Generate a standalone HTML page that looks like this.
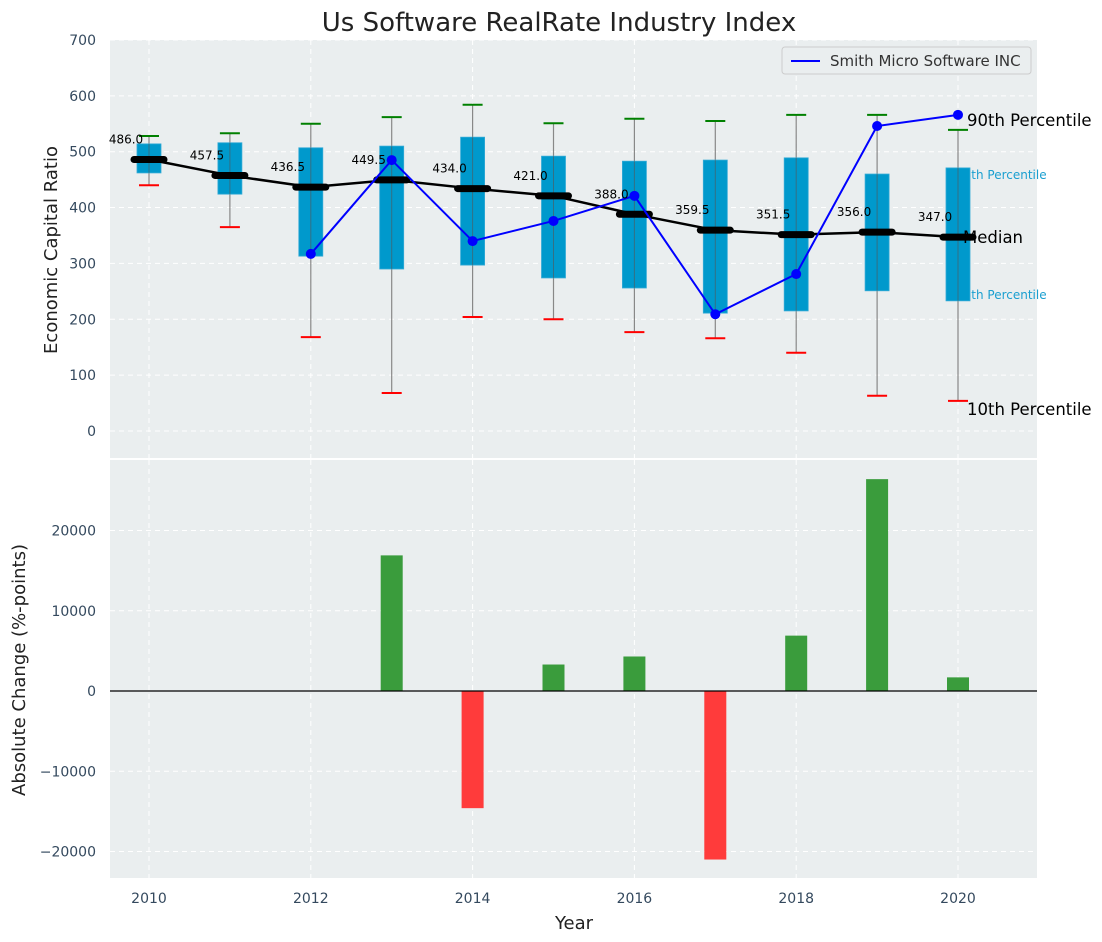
<!DOCTYPE html>
<html><head><meta charset="utf-8"><style>
body{margin:0;background:#fff;}
svg{display:block;font-family:"DejaVu Sans","Liberation Sans",sans-serif;}
</style></head><body>
<svg id="chart" width="1102" height="942" viewBox="0 0 1102 942" xmlns="http://www.w3.org/2000/svg">
<text x="559" y="31" text-anchor="middle" font-size="26" fill="#222">Us Software RealRate Industry Index</text>
<rect x="110" y="40" width="927" height="418" fill="#eaeeef"/>
<rect x="110" y="460" width="927" height="418" fill="#eaeeef"/>
<g id="grid"></g><g id="bars"></g><g id="boxes"></g><g id="annot"></g><g id="lines"></g><g id="labels"></g><g id="axes"></g>
<text x="57" y="250" transform="rotate(-90 57 250)" text-anchor="middle" font-size="18" fill="#222">Economic Capital Ratio</text>
<text x="25" y="670" transform="rotate(-90 25 670)" text-anchor="middle" font-size="18" fill="#222">Absolute Change (%-points)</text>
<text x="574" y="929" text-anchor="middle" font-size="18" fill="#222">Year</text>
<g>
<rect x="782" y="47" width="249" height="27" fill="#eaeeef" stroke="#ccc" rx="3"/>
<line x1="791" y1="61" x2="820" y2="61" stroke="#0000ff" stroke-width="2"/>
<text x="830" y="66" font-size="15" fill="#333">Smith Micro Software INC</text>
</g>
</svg>
<script>
const years=[2010,2011,2012,2013,2014,2015,2016,2017,2018,2019,2020];
const p90=[528,533,550,562,584,551,559,555,566,566,539];
const q75=[514,516,507,510,526,492,483,485,489,460,471];
const median=[486,457.5,436.5,449.5,434,421,388,359.5,351.5,356,347];
const q25=[462,424,313,290,297,274,256,211,215,251,233];
const p10=[440,365,168,68,204,200,177,166,140,63,54];
const companyYears=[2012,2013,2014,2015,2016,2017,2018,2019,2020];
const companyValues=[317,485,340,376,421,209,281,546,566];
const changeYears=[2013,2014,2015,2016,2017,2018,2019,2020];
const changeValues=[16900,-14600,3300,4300,-21000,6900,26400,1700];
const topTicks=[0,100,200,300,400,500,600,700];
const bottomTicks=[-20000,-10000,0,10000,20000];
const xTicks=[2010,2012,2014,2016,2018,2020];

const NS='http://www.w3.org/2000/svg';
const X=v=>149+(v-2010)*80.9;
const Y1=v=>431-v*0.5586;
const Y2=v=>691-v*0.008025;
function mk(parent,tag,attrs,text){const e=document.createElementNS(NS,tag);for(const k in attrs)e.setAttribute(k,attrs[k]);if(text!==undefined)e.textContent=text;document.getElementById(parent).appendChild(e);return e;}

for(const t of xTicks){
  let g=mk('grid','line',{x1:X(t),x2:X(t),y1:40,y2:458,stroke:'#fff','stroke-dasharray':'5,4','stroke-width':1});
  
  
  g=mk('grid','line',{x1:X(t),x2:X(t),y1:460,y2:878,stroke:'#fff','stroke-dasharray':'5,4','stroke-width':1});
  
  
  const l=mk('axes','text',{x:X(t),y:903,'text-anchor':'middle','font-size':14,fill:'#34495e'},String(t));
  
  
}
for(const t of topTicks){
  const g=mk('grid','line',{x1:110,x2:1037,y1:Y1(t),y2:Y1(t),stroke:'#fff','stroke-dasharray':'5,4','stroke-width':1});
  
  
  const l=mk('axes','text',{x:96,y:Y1(t)+5,'text-anchor':'end','font-size':14,fill:'#34495e'},String(t));
  
  
}
for(const t of bottomTicks){
  const g=mk('grid','line',{x1:110,x2:1037,y1:Y2(t),y2:Y2(t),stroke:'#fff','stroke-dasharray':'5,4','stroke-width':1});
  
  
  const l=mk('axes','text',{x:96,y:Y2(t)+5,'text-anchor':'end','font-size':14,fill:'#34495e'},t<0?'\u2212'+Math.abs(t):String(t));
  
  
}
const z=mk('axes','line',{x1:110,x2:1037,y1:Y2(0),y2:Y2(0),stroke:'#000','stroke-width':1.2});



changeYears.forEach((yr,i)=>{
  const v=changeValues[i];
  const y0=Y2(0),y1=Y2(v);
  const b=mk('bars','rect',{x:X(yr)-11,width:22,y:Math.min(y0,y1),height:Math.abs(y1-y0),fill:v>=0?'#3a9c3c':'#ff3b3b'});
  
  
});

const L=years.length-1, xl=X(years[L]);
const rl=[['75th Percentile',q75[L],12,'#1a9fd0',-2,11,'p75-annotation'],
['25th Percentile',q25[L],12,'#1a9fd0',-2,-2,'p25-annotation']];
for(const r of rl){
  const t=mk('annot','text',{x:xl+r[4],y:Y1(r[1])+r[5],'font-size':r[2],fill:r[3]},r[0]);
  
  
}

years.forEach((yr,i)=>{
  const x=X(yr);
  const w=mk('boxes','line',{x1:x,x2:x,y1:Y1(p90[i]),y2:Y1(p10[i]),stroke:'#888','stroke-width':1.2});
  
  
  const c1=mk('boxes','line',{x1:x-10,x2:x+10,y1:Y1(p90[i]),y2:Y1(p90[i]),stroke:'#008000','stroke-width':2});
  
  
  const c2=mk('boxes','line',{x1:x-10,x2:x+10,y1:Y1(p10[i]),y2:Y1(p10[i]),stroke:'#ff0000','stroke-width':2});
  
  
});
years.forEach((yr,i)=>{
  const x=X(yr);
  const b=mk('annot','rect',{x:x-12,width:24,y:Y1(q75[i]),height:Y1(q25[i])-Y1(q75[i]),fill:'#0099cc',stroke:'#33aad6','stroke-width':0.8});
  
  
  const w2=mk('annot','line',{x1:x,x2:x,y1:Y1(q75[i]),y2:Y1(q25[i]),stroke:'#555','stroke-width':1,opacity:0.6});
  
  
});

const rl2=[['90th Percentile',p90[L],16.5,'#000',9,-4,'p90-annotation'],
['Median',median[L],16.5,'#000',5,6,'median-annotation'],
['10th Percentile',p10[L],16.5,'#000',9,14,'p10-annotation']];
for(const r of rl2){
  const t=mk('annot','text',{x:xl+r[4],y:Y1(r[1])+r[5],'font-size':r[2],fill:r[3]},r[0]);
  
  
}

const mp=mk('lines','polyline',{points:years.map((yr,i)=>X(yr)+','+Y1(median[i])).join(' '),fill:'none',stroke:'#000','stroke-width':2.5});


years.forEach((yr,i)=>{
  const s=mk('lines','line',{x1:X(yr)-15,x2:X(yr)+15,y1:Y1(median[i]),y2:Y1(median[i]),stroke:'#000','stroke-width':7,'stroke-linecap':'round'});
  
  
  const t=mk('labels','text',{x:X(yr)-23,y:Y1(median[i])-16,'text-anchor':'middle','font-size':12,fill:'#000'},median[i].toFixed(1));
  
  
});

const cp=mk('lines','polyline',{points:companyYears.map((yr,i)=>X(yr)+','+Y1(companyValues[i])).join(' '),fill:'none',stroke:'#0000ff','stroke-width':2});


companyYears.forEach((yr,i)=>{
  const c=mk('lines','circle',{cx:X(yr),cy:Y1(companyValues[i]),r:5,fill:'#0000ff'});
  
  
});
</script>
</body></html>
